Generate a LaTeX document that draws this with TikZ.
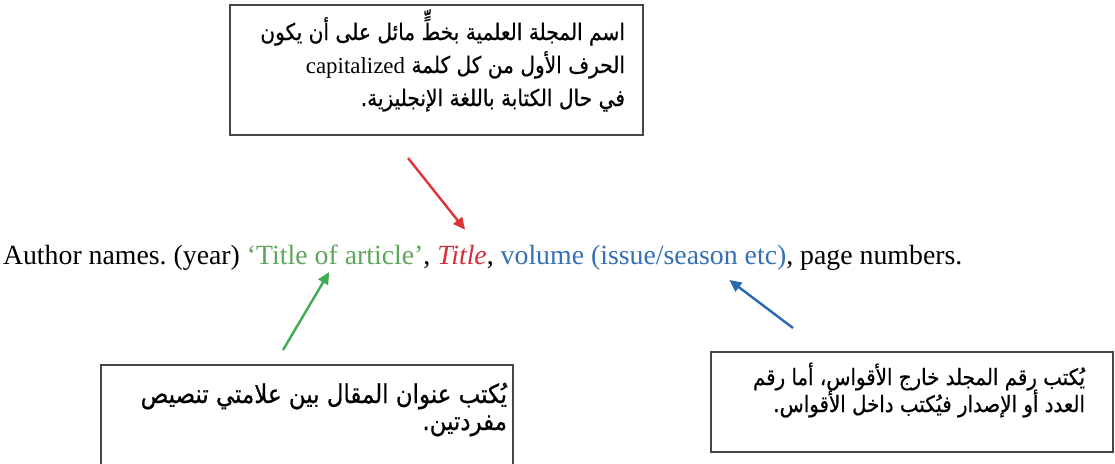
\documentclass[tikz,border=0pt]{standalone}
\usepackage{fontspec}
\setmainfont{Liberation Serif}
\newfontfamily\arabicfont[Script=Arabic, FakeStretch=0.88, FakeBold=0.6]{DejaVu Sans}
\TeXXeTstate=1
\frenchspacing
\usetikzlibrary{arrows.meta}

\definecolor{titlegreen}{RGB}{92,166,92}
\definecolor{titlered}{RGB}{214,44,58}
\definecolor{volblue}{RGB}{52,112,178}
\definecolor{arrowgreen}{RGB}{64,170,84}
\definecolor{arrowred}{RGB}{222,52,52}
\definecolor{arrowblue}{RGB}{40,104,176}
\definecolor{boxline}{RGB}{70,70,70}

\tikzset{
  notebox/.style={draw=boxline, line width=1.4pt},
  refpart/.style={inner sep=0pt, outer sep=0pt, anchor=base west, font=\fontsize{27.8}{32}\selectfont},
  noteline/.style={inner sep=0pt, outer sep=0pt, anchor=base east, font=\arabicfont\fontsize{#1}{28}\selectfont},
  noteline/.default=22.9,
  pointer/.style={line width=2.4pt, -{Triangle[length=12pt,width=11pt]}},
}

\begin{document}
\begin{tikzpicture}[x=1pt,y=-1pt]
  \clip (0,0) rectangle (1115,463);

  % the reference line, built from coloured pieces
  \node[refpart] (authors) at (3,264) {Author names. (year)\ \mbox{}};
  \node[refpart, text=titlegreen] (article) at (authors.base east) {‘Title of article’};
  \node[refpart] (comma1) at (article.base east) {,\ \mbox{}};
  \node[refpart, text=titlered] (journal) at (comma1.base east) {\itshape Title};
  \node[refpart] (comma2) at (journal.base east) {,\ \mbox{}};
  \node[refpart, text=volblue] (volume) at (comma2.base east) {volume (issue/season etc)};
  \node[refpart] (pages) at (volume.base east) {, page numbers.};

  % note on the journal title
  \draw[notebox] (230,5) rectangle (643,135);
  \node[noteline] (top1) at (625,40) {\beginR اسم المجلة العلمية بخطٍّ مائل على أن يكون\endR};
  \node[noteline] (top2) at (625,73) {\beginR الحرف الأول من كل كلمة \beginL{\rmfamily capitalized}\endL\endR};
  \node[noteline] (top3) at (625,106) {\beginR في حال الكتابة باللغة الإنجليزية.\endR};

  % note on the article title (its lower edge runs off the page)
  \draw[notebox] (101,485) rectangle (513,365);
  \node[noteline=26] (left1) at (507,403) {\beginR يُكتب عنوان المقال بين علامتي تنصيص\endR};
  \node[noteline=26] (left2) at (507,430) {\beginR مفردتين.\endR};

  % note on volume and issue
  \draw[notebox] (711,352) rectangle (1113,452);
  \node[noteline=22.5] (right1) at (1085,385) {\beginR يُكتب رقم المجلد خارج الأقواس، أما رقم\endR};
  \node[noteline=22.5] (right2) at (1085,412) {\beginR العدد أو الإصدار فيُكتب داخل الأقواس.\endR};

  % pointers from the notes to the parts of the reference
  \coordinate (redtail) at (408,158);
  \coordinate (greentail) at (283,350);
  \coordinate (bluetail) at (793,328);
  \draw[pointer, arrowred] (redtail) -- ([xshift=3pt,yshift=15pt]journal.north);
  \draw[pointer, arrowgreen] (greentail) -- ([xshift=-6pt,yshift=-8pt]article.base);
  \draw[pointer, arrowblue] (bluetail) -- ([xshift=-57pt,yshift=-16pt]volume.base east);
\end{tikzpicture}
\end{document}
